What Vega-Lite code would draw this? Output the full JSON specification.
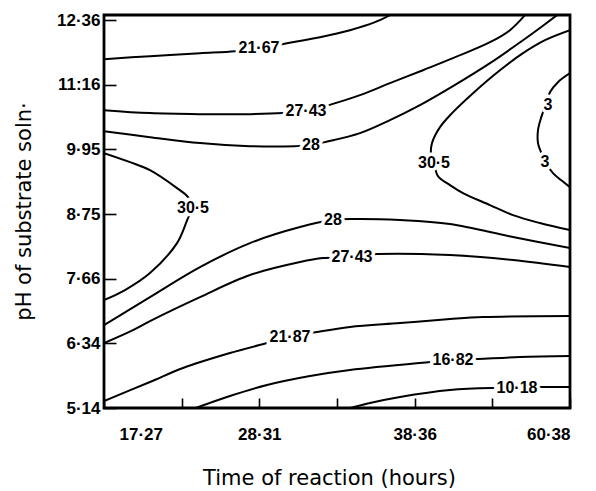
{
  "$schema": "https://vega.github.io/schema/vega-lite/v6.json",
  "autosize": {"type": "none"},
  "padding": {"left": 104, "top": 15, "right": 26, "bottom": 83},
  "width": 466,
  "height": 393,
  "background": "white",
  "config": {
    "view": {"stroke": "black", "strokeWidth": 2.8},
    "axis": {
      "grid": false,
      "domain": false,
      "tickColor": "black",
      "tickWidth": 1.6,
      "labelColor": "black",
      "labelFont": "Liberation Sans",
      "labelFontWeight": "bold",
      "labelFontSize": 17,
      "titleFont": "DejaVu Sans",
      "titleFontWeight": "normal",
      "titleFontSize": 21,
      "titleColor": "black"
    }
  },
  "datasets": {
    "lines": [
      {"contour": "A", "i": 0, "x": 0, "y": 5.397},
      {"contour": "A", "i": 1, "x": 0.592, "y": 5.443},
      {"contour": "A", "i": 2, "x": 1.236, "y": 5.489},
      {"contour": "A", "i": 3, "x": 1.687, "y": 5.52},
      {"contour": "A", "i": 4, "x": 1.996, "y": 5.567},
      {"contour": "A", "i": 5, "x": 2.356, "y": 5.644},
      {"contour": "A", "i": 6, "x": 2.781, "y": 5.737},
      {"contour": "A", "i": 7, "x": 3.167, "y": 5.845},
      {"contour": "A", "i": 8, "x": 3.489, "y": 5.969},
      {"contour": "A", "i": 9, "x": 3.682, "y": 6.077},

      {"contour": "B", "i": 0, "x": 0, "y": 4.608},
      {"contour": "B", "i": 1, "x": 0.592, "y": 4.562},
      {"contour": "B", "i": 2, "x": 1.236, "y": 4.546},
      {"contour": "B", "i": 3, "x": 1.88, "y": 4.546},
      {"contour": "B", "i": 4, "x": 2.305, "y": 4.562},
      {"contour": "B", "i": 5, "x": 2.601, "y": 4.593},
      {"contour": "B", "i": 6, "x": 2.936, "y": 4.701},
      {"contour": "B", "i": 7, "x": 3.296, "y": 4.84},
      {"contour": "B", "i": 8, "x": 3.682, "y": 5.025},
      {"contour": "B", "i": 9, "x": 4.107, "y": 5.226},
      {"contour": "B", "i": 10, "x": 4.493, "y": 5.412},
      {"contour": "B", "i": 11, "x": 4.97, "y": 5.659},
      {"contour": "B", "i": 12, "x": 5.227, "y": 5.845},
      {"contour": "B", "i": 13, "x": 5.42, "y": 6.077},

      {"contour": "C", "i": 0, "x": 0, "y": 4.283},
      {"contour": "C", "i": 1, "x": 0.592, "y": 4.19},
      {"contour": "C", "i": 2, "x": 1.236, "y": 4.098},
      {"contour": "C", "i": 3, "x": 1.88, "y": 4.051},
      {"contour": "C", "i": 4, "x": 2.459, "y": 4.051},
      {"contour": "C", "i": 5, "x": 2.665, "y": 4.067},
      {"contour": "C", "i": 6, "x": 2.845, "y": 4.113},
      {"contour": "C", "i": 7, "x": 3.296, "y": 4.252},
      {"contour": "C", "i": 8, "x": 3.682, "y": 4.453},
      {"contour": "C", "i": 9, "x": 4.068, "y": 4.685},
      {"contour": "C", "i": 10, "x": 4.493, "y": 4.979},
      {"contour": "C", "i": 11, "x": 4.97, "y": 5.335},
      {"contour": "C", "i": 12, "x": 5.395, "y": 5.69},
      {"contour": "C", "i": 13, "x": 5.678, "y": 5.938},
      {"contour": "C", "i": 14, "x": 5.832, "y": 6.077},

      {"contour": "D", "i": 0, "x": 6.0, "y": 5.845},
      {"contour": "D", "i": 1, "x": 5.678, "y": 5.69},
      {"contour": "D", "i": 2, "x": 5.395, "y": 5.489},
      {"contour": "D", "i": 3, "x": 5.098, "y": 5.226},
      {"contour": "D", "i": 4, "x": 4.751, "y": 4.871},
      {"contour": "D", "i": 5, "x": 4.481, "y": 4.562},
      {"contour": "D", "i": 6, "x": 4.326, "y": 4.345},
      {"contour": "D", "i": 7, "x": 4.223, "y": 4.098},
      {"contour": "D", "i": 8, "x": 4.21, "y": 3.943},
      {"contour": "D", "i": 9, "x": 4.249, "y": 3.788},
      {"contour": "D", "i": 10, "x": 4.3, "y": 3.587},
      {"contour": "D", "i": 11, "x": 4.455, "y": 3.448},
      {"contour": "D", "i": 12, "x": 4.622, "y": 3.325},
      {"contour": "D", "i": 13, "x": 4.97, "y": 3.139},
      {"contour": "D", "i": 14, "x": 5.266, "y": 2.984},
      {"contour": "D", "i": 15, "x": 5.613, "y": 2.861},
      {"contour": "D", "i": 16, "x": 6.0, "y": 2.752},

      {"contour": "E", "i": 0, "x": 6.0, "y": 5.18},
      {"contour": "E", "i": 1, "x": 5.845, "y": 5.041},
      {"contour": "E", "i": 2, "x": 5.742, "y": 4.886},
      {"contour": "E", "i": 3, "x": 5.691, "y": 4.701},
      {"contour": "E", "i": 4, "x": 5.626, "y": 4.484},
      {"contour": "E", "i": 5, "x": 5.588, "y": 4.299},
      {"contour": "E", "i": 6, "x": 5.588, "y": 4.098},
      {"contour": "E", "i": 7, "x": 5.626, "y": 3.959},
      {"contour": "E", "i": 8, "x": 5.691, "y": 3.788},
      {"contour": "E", "i": 9, "x": 5.781, "y": 3.634},
      {"contour": "E", "i": 10, "x": 5.884, "y": 3.526},
      {"contour": "E", "i": 11, "x": 6.0, "y": 3.417},

      {"contour": "F", "i": 0, "x": 0, "y": 3.943},
      {"contour": "F", "i": 1, "x": 0.335, "y": 3.804},
      {"contour": "F", "i": 2, "x": 0.592, "y": 3.68},
      {"contour": "F", "i": 3, "x": 0.94, "y": 3.402},
      {"contour": "F", "i": 4, "x": 1.082, "y": 3.263},
      {"contour": "F", "i": 5, "x": 1.146, "y": 3.093},
      {"contour": "F", "i": 6, "x": 1.082, "y": 2.938},
      {"contour": "F", "i": 7, "x": 0.94, "y": 2.551},
      {"contour": "F", "i": 8, "x": 0.592, "y": 2.088},
      {"contour": "F", "i": 9, "x": 0.27, "y": 1.825},
      {"contour": "F", "i": 10, "x": 0, "y": 1.67},

      {"contour": "G", "i": 0, "x": 0, "y": 1.283},
      {"contour": "G", "i": 1, "x": 0.592, "y": 1.716},
      {"contour": "G", "i": 2, "x": 1.236, "y": 2.18},
      {"contour": "G", "i": 3, "x": 1.88, "y": 2.551},
      {"contour": "G", "i": 4, "x": 2.524, "y": 2.799},
      {"contour": "G", "i": 5, "x": 2.948, "y": 2.907},
      {"contour": "G", "i": 6, "x": 3.206, "y": 2.923},
      {"contour": "G", "i": 7, "x": 3.811, "y": 2.907},
      {"contour": "G", "i": 8, "x": 4.455, "y": 2.845},
      {"contour": "G", "i": 9, "x": 5.266, "y": 2.644},
      {"contour": "G", "i": 10, "x": 6.0, "y": 2.474},

      {"contour": "H", "i": 0, "x": 0, "y": 1.005},
      {"contour": "H", "i": 1, "x": 0.373, "y": 1.206},
      {"contour": "H", "i": 2, "x": 0.592, "y": 1.345},
      {"contour": "H", "i": 3, "x": 1.236, "y": 1.716},
      {"contour": "H", "i": 4, "x": 1.88, "y": 2.057},
      {"contour": "H", "i": 5, "x": 2.524, "y": 2.258},
      {"contour": "H", "i": 6, "x": 2.82, "y": 2.319},
      {"contour": "H", "i": 7, "x": 3.193, "y": 2.335},
      {"contour": "H", "i": 8, "x": 3.515, "y": 2.381},
      {"contour": "H", "i": 9, "x": 4.455, "y": 2.366},
      {"contour": "H", "i": 10, "x": 5.266, "y": 2.289},
      {"contour": "H", "i": 11, "x": 6.0, "y": 2.18},

      {"contour": "I", "i": 0, "x": 0, "y": 0.108},
      {"contour": "I", "i": 1, "x": 0.592, "y": 0.402},
      {"contour": "I", "i": 2, "x": 1.017, "y": 0.619},
      {"contour": "I", "i": 3, "x": 1.622, "y": 0.85},
      {"contour": "I", "i": 4, "x": 2.099, "y": 1.005},
      {"contour": "I", "i": 5, "x": 2.395, "y": 1.098},
      {"contour": "I", "i": 6, "x": 2.742, "y": 1.175},
      {"contour": "I", "i": 7, "x": 3.167, "y": 1.253},
      {"contour": "I", "i": 8, "x": 3.811, "y": 1.314},
      {"contour": "I", "i": 9, "x": 4.455, "y": 1.376},
      {"contour": "I", "i": 10, "x": 4.88, "y": 1.407},
      {"contour": "I", "i": 11, "x": 6.0, "y": 1.423},

      {"contour": "J", "i": 0, "x": 1.146, "y": -0.015},
      {"contour": "J", "i": 1, "x": 1.622, "y": 0.186},
      {"contour": "J", "i": 2, "x": 2.099, "y": 0.356},
      {"contour": "J", "i": 3, "x": 2.652, "y": 0.495},
      {"contour": "J", "i": 4, "x": 3.167, "y": 0.588},
      {"contour": "J", "i": 5, "x": 4.197, "y": 0.711},
      {"contour": "J", "i": 6, "x": 4.493, "y": 0.742},
      {"contour": "J", "i": 7, "x": 4.815, "y": 0.758},
      {"contour": "J", "i": 8, "x": 5.356, "y": 0.789},
      {"contour": "J", "i": 9, "x": 6.0, "y": 0.804},

      {"contour": "K", "i": 0, "x": 3.129, "y": -0.015},
      {"contour": "K", "i": 1, "x": 3.425, "y": 0.077},
      {"contour": "K", "i": 2, "x": 3.811, "y": 0.17},
      {"contour": "K", "i": 3, "x": 4.455, "y": 0.278},
      {"contour": "K", "i": 4, "x": 5.008, "y": 0.309},
      {"contour": "K", "i": 5, "x": 5.317, "y": 0.309},
      {"contour": "K", "i": 6, "x": 5.613, "y": 0.325},
      {"contour": "K", "i": 7, "x": 6.0, "y": 0.325}
    ],
    "labels": [
      {"label": "21·67", "x": 1.996, "y": 5.567},
      {"label": "27·43", "x": 2.601, "y": 4.593},
      {"label": "28", "x": 2.665, "y": 4.067},
      {"label": "30·5", "x": 1.146, "y": 3.093},
      {"label": "30·5", "x": 4.249, "y": 3.788},
      {"label": "3", "x": 5.717, "y": 4.686},
      {"label": "3", "x": 5.678, "y": 3.804},
      {"label": "28", "x": 2.948, "y": 2.907},
      {"label": "27·43", "x": 3.193, "y": 2.335},
      {"label": "21·87", "x": 2.395, "y": 1.098},
      {"label": "16·82", "x": 4.493, "y": 0.742},
      {"label": "10·18", "x": 5.317, "y": 0.309}
    ]
  },
  "encoding": {
    "x": {
      "field": "x",
      "type": "quantitative",
      "scale": {"domain": [0, 6], "nice": false, "zero": false},
      "axis": {
        "title": "Time of reaction (hours)",
        "values": [0, 1, 2, 3, 4, 5, 6],
        "labelExpr": "datum.value == 0 ? '17·27' : datum.value == 2 ? '28·31' : datum.value == 4 ? '38·36' : datum.value == 6 ? '60·38' : ''",
        "tickSize": -10,
        "labelPadding": 28,
        "labelOffset": {"condition": {"test": "datum.value == 0", "value": 15}, "value": 0},
        "titleX": 225,
        "titleY": 76,
        "titleBaseline": "alphabetic",
        "titleAnchor": "middle"
      }
    },
    "y": {
      "field": "y",
      "type": "quantitative",
      "scale": {"domain": [0, 6.08], "nice": false, "zero": false},
      "axis": {
        "title": "pH of substrate soln·",
        "values": [0, 1, 2, 3, 4, 5, 6],
        "labelExpr": "['5·14','6·34','7·66','8·75','9·95','11:16','12·36'][datum.value]",
        "tickSize": -12,
        "labelPadding": 16,
        "titleAngle": -90,
        "titleX": -74,
        "titleY": 196,
        "titleBaseline": "alphabetic",
        "titleAlign": "center"
      }
    }
  },
  "layer": [
    {
      "data": {"name": "lines"},
      "mark": {"type": "line", "color": "black", "strokeWidth": 2, "interpolate": "catmull-rom", "clip": true},
      "encoding": {
        "detail": {"field": "contour", "type": "nominal"},
        "order": {"field": "i", "type": "quantitative"}
      }
    },
    {
      "data": {"name": "labels"},
      "mark": {"type": "text", "font": "Liberation Sans", "fontWeight": "bold", "fontSize": 16, "fill": "white", "stroke": "white", "strokeWidth": 7, "baseline": "middle", "align": "center"},
      "encoding": {"text": {"field": "label"}}
    },
    {
      "data": {"name": "labels"},
      "mark": {"type": "text", "font": "Liberation Sans", "fontWeight": "bold", "fontSize": 16, "color": "black", "baseline": "middle", "align": "center"},
      "encoding": {"text": {"field": "label"}}
    }
  ]
}
